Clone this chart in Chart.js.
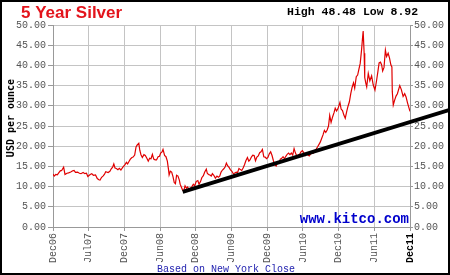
<!DOCTYPE html>
<html><head><meta charset="utf-8">
<script src="https://cdn.jsdelivr.net/npm/chart.js@4/dist/chart.umd.min.js"></script>
<style>html,body{margin:0;padding:0;background:#fff;}canvas{display:block;}</style>
</head><body>
<canvas id="c" width="450" height="275"></canvas>
<script>
const chartTitle = '5 Year Silver';
const highLowText = 'High 48.48 Low 8.92';
const sourceText = 'www.kitco.com';
const footerText = 'Based on New York Close';
const yAxisTitle = 'USD per ounce';
const tickLabels = ['Dec06','Jul07','Dec07','Jun08','Dec08','Jun09','Dec09','Jun10','Dec10','Jun11','Dec11'];
const rangeStart = '2007-01-03';
const rangeEnd = '2011-12-22';
const yMin = 0, yMax = 50, yStep = 5;

const dates = [
'2007-01-03','2007-01-09','2007-01-17','2007-01-25','2007-02-01','2007-02-09','2007-02-16','2007-02-26','2007-03-05','2007-03-15',
'2007-03-23','2007-04-03','2007-04-13','2007-04-20','2007-04-27','2007-05-08','2007-05-17','2007-05-25','2007-06-05','2007-06-14',
'2007-06-22','2007-06-29','2007-07-11','2007-07-19','2007-07-27','2007-08-07','2007-08-16','2007-08-24','2007-08-30','2007-09-07',
'2007-09-14','2007-09-21','2007-09-28','2007-10-10','2007-10-19','2007-10-26','2007-11-02','2007-11-08','2007-11-14','2007-11-21',
'2007-11-29','2007-12-06','2007-12-14','2007-12-24','2008-01-03','2008-01-11','2008-01-17','2008-01-24','2008-01-31','2008-02-08',
'2008-02-14','2008-02-22','2008-02-29','2008-03-06','2008-03-14','2008-03-19','2008-03-25','2008-04-01','2008-04-09','2008-04-16',
'2008-04-24','2008-05-01','2008-05-08','2008-05-15','2008-05-22','2008-05-29','2008-06-05','2008-06-12','2008-06-20','2008-06-27',
'2008-07-03','2008-07-10','2008-07-15','2008-07-23','2008-07-30','2008-08-06','2008-08-12','2008-08-15','2008-08-21','2008-08-28',
'2008-09-04','2008-09-10','2008-09-16','2008-09-22','2008-09-29','2008-10-06','2008-10-10','2008-10-16','2008-10-22','2008-10-28',
'2008-11-04','2008-11-11','2008-11-17','2008-11-24','2008-12-02','2008-12-09','2008-12-16','2008-12-23','2008-12-31','2009-01-08',
'2009-01-14','2009-01-22','2009-01-28','2009-02-05','2009-02-12','2009-02-20','2009-02-25','2009-03-03','2009-03-09','2009-03-17',
'2009-03-23','2009-03-30','2009-04-07','2009-04-15','2009-04-22','2009-04-29','2009-05-06','2009-05-13','2009-05-20','2009-05-27',
'2009-06-02','2009-06-09','2009-06-15','2009-06-22','2009-06-30','2009-07-08','2009-07-15','2009-07-22','2009-07-29','2009-08-05',
'2009-08-12','2009-08-19','2009-08-26','2009-09-02','2009-09-09','2009-09-17','2009-09-24','2009-09-30','2009-10-07','2009-10-14',
'2009-10-21','2009-10-28','2009-11-04','2009-11-11','2009-11-18','2009-11-25','2009-12-02','2009-12-09','2009-12-16','2009-12-23',
'2009-12-30','2010-01-06','2010-01-13','2010-01-20','2010-01-27','2010-02-04','2010-02-10','2010-02-17','2010-02-24','2010-03-03',
'2010-03-10','2010-03-17','2010-03-24','2010-03-31','2010-04-07','2010-04-14','2010-04-21','2010-04-28','2010-05-05','2010-05-12',
'2010-05-19','2010-05-26','2010-06-02','2010-06-09','2010-06-16','2010-06-23','2010-06-30','2010-07-07','2010-07-14','2010-07-21',
'2010-07-28','2010-08-04','2010-08-11','2010-08-18','2010-08-25','2010-09-01','2010-09-08','2010-09-15','2010-09-22','2010-09-29',
'2010-10-06','2010-10-13','2010-10-20','2010-10-27','2010-11-03','2010-11-09','2010-11-16','2010-11-24','2010-12-01','2010-12-07',
'2010-12-14','2010-12-21','2010-12-31','2011-01-06','2011-01-13','2011-01-20','2011-01-27','2011-02-03','2011-02-10','2011-02-17',
'2011-02-24','2011-03-03','2011-03-10','2011-03-16','2011-03-24','2011-03-31','2011-04-07','2011-04-13','2011-04-20','2011-04-25',
'2011-04-28','2011-05-03','2011-05-06','2011-05-12','2011-05-16','2011-05-24','2011-06-01','2011-06-10','2011-06-18','2011-06-27',
'2011-07-05','2011-07-12','2011-07-18','2011-07-25','2011-07-31','2011-08-05','2011-08-12','2011-08-19','2011-08-25','2011-09-02',
'2011-09-09','2011-09-16','2011-09-21','2011-09-23','2011-09-28','2011-10-05','2011-10-12','2011-10-19','2011-10-31','2011-11-08',
'2011-11-17','2011-11-25','2011-12-02','2011-12-09','2011-12-16','2011-12-22'
];
const prices = [
13.1,12.6,13.0,12.9,13.4,13.9,14.0,14.8,13.0,13.3,
13.4,13.6,13.9,14.0,13.5,13.6,13.3,13.2,13.5,13.2,
13.3,12.5,13.0,13.2,12.8,12.9,12.0,11.7,11.6,12.3,
12.6,13.0,13.7,13.5,13.8,14.4,14.8,15.6,14.6,14.5,
14.2,14.5,14.1,14.8,15.4,16.0,15.6,16.2,16.8,17.2,
17.3,17.8,19.8,20.3,20.7,19.0,17.9,17.2,17.9,17.7,
17.0,16.3,17.0,16.9,18.0,16.8,16.6,16.6,17.4,17.5,
18.3,18.6,19.2,17.7,17.4,16.3,14.2,12.9,13.8,13.6,
12.4,11.0,10.7,12.8,12.6,11.6,10.6,9.9,9.2,8.9,
10.2,9.6,9.9,9.3,9.6,10.0,10.6,10.2,11.3,11.5,
10.6,11.3,12.2,12.7,13.6,14.3,13.3,13.0,12.9,12.6,
13.2,12.8,12.1,12.6,12.3,12.6,13.6,14.1,14.4,14.9,
15.8,15.1,14.8,14.2,13.8,13.1,13.4,13.6,13.5,14.5,
14.2,14.0,14.6,15.4,16.4,17.2,16.3,16.6,17.3,17.8,
17.7,16.4,17.3,17.6,18.4,18.6,19.2,17.4,17.3,16.9,
17.2,18.1,18.6,17.7,16.4,15.3,15.1,16.1,15.8,16.8,
17.0,17.4,16.9,17.5,18.0,18.3,17.9,18.3,17.8,19.4,
18.3,17.6,17.8,18.0,18.6,18.9,18.4,17.7,18.2,17.8,
17.6,18.1,18.3,18.3,18.9,19.3,19.8,20.4,21.0,21.9,
22.8,23.9,23.4,24.0,25.0,27.6,25.9,27.3,28.3,29.4,
28.7,29.3,30.8,29.2,28.8,27.7,26.9,28.5,29.9,31.0,
33.0,34.6,35.7,34.4,37.2,37.6,39.2,40.5,43.9,46.9,
48.5,43.0,37.0,35.5,34.7,38.0,36.2,37.4,35.2,33.9,
36.2,38.5,40.6,40.8,40.1,38.6,39.5,43.8,42.2,43.0,
41.8,40.1,39.6,33.5,30.2,31.4,32.4,33.0,35.0,34.0,
32.3,33.0,32.2,30.8,29.6,28.6
];
const trendDates = ['2008-10-23','2012-07-11'];
const trendValues = [8.7, 29.0];

const DAY = 86400000;
const t0 = Date.parse(rangeStart);
const span = (Date.parse(rangeEnd) - t0) / DAY;
const toX = d => (Date.parse(d) - t0) / DAY;

const priceData = dates.map((d, i) => ({x: toX(d), y: prices[i]}));
const trendData = trendDates.map((d, i) => ({x: toX(d), y: trendValues[i]}));

const tickFont = {family: '"Liberation Mono", monospace', size: 10};

const textPlugin = {
  id: 'texts',
  afterDraw(chart) {
    const ctx = chart.ctx;
    ctx.save();
    ctx.textBaseline = 'alphabetic';
    ctx.fillStyle = '#e3141c';
    ctx.font = 'bold 17px "Liberation Sans", Arial, sans-serif';
    ctx.textAlign = 'left';
    ctx.fillText(chartTitle, 21, 18);
    ctx.fillStyle = '#000';
    ctx.font = 'bold 11.5px "Liberation Mono", monospace';
    ctx.fillText(highLowText, 287, 15);
    ctx.fillStyle = '#0000cc';
    ctx.font = 'bold 14px "Liberation Mono", monospace';
    ctx.textAlign = 'right';
    ctx.fillText(sourceText, 409, 223);
    ctx.fillStyle = '#2424b0';
    ctx.font = '10px "Liberation Mono", monospace';
    ctx.textAlign = 'center';
    ctx.fillText(footerText, 226, 272);
    ctx.save();
    ctx.translate(14, 118);
    ctx.rotate(-Math.PI / 2);
    ctx.fillStyle = '#000';
    ctx.font = 'bold 10px "DejaVu Sans Mono", monospace';
    ctx.textAlign = 'center';
    ctx.fillText(yAxisTitle, 0, 0);
    ctx.restore();
    ctx.strokeStyle = '#000';
    ctx.lineWidth = 2;
    ctx.strokeRect(1, 1, 448, 273);
    ctx.restore();
  }
};

new Chart(document.getElementById('c'), {
  type: 'line',
  data: {
    datasets: [
      {data: trendData, borderColor: '#000', borderWidth: 4, pointRadius: 0, clip: false, yAxisID: 'y', borderCapStyle: 'butt'},
      {data: priceData, borderColor: '#e00000', borderWidth: 1.2, pointRadius: 0, tension: 0, yAxisID: 'y'}
    ]
  },
  options: {
    responsive: false,
    devicePixelRatio: 1,
    animation: false,
    events: [],
    layout: {padding: {top: 25, left: 0, right: 0, bottom: 0}},
    plugins: {legend: {display: false}, tooltip: {enabled: false}, title: {display: false}},
    scales: {
      x: {
        type: 'linear', min: 0, max: span,
        afterBuildTicks: s => { s.ticks = tickLabels.map((l, i) => ({value: i * span / (tickLabels.length - 1)})); },
        afterFit: s => { s.height = 48; },
        ticks: {
          autoSkip: false, maxRotation: 90, minRotation: 90, padding: 2,
          callback: (v, i) => tickLabels[i],
          color: c => c.index === tickLabels.length - 1 ? '#000' : '#555',
          font: c => c.index === tickLabels.length - 1 ? {family: '"Liberation Mono", monospace', size: 10, weight: 'bold'} : tickFont
        },
        grid: {color: '#c4c4c4', tickLength: 4, tickColor: '#999'},
        border: {color: '#999'}
      },
      y: {
        position: 'left', min: yMin, max: yMax,
        afterFit: s => { s.width = 53; },
        ticks: {stepSize: yStep, padding: 2, color: '#555', font: tickFont, callback: v => v.toFixed(2)},
        grid: {color: '#c4c4c4', tickLength: 5, tickColor: '#999'},
        border: {color: '#999'}
      },
      y2: {
        position: 'right', min: yMin, max: yMax,
        afterFit: s => { s.width = 40; },
        ticks: {stepSize: yStep, padding: 1, color: '#555', font: tickFont, callback: v => v.toFixed(2)},
        grid: {drawOnChartArea: false, tickLength: 3, tickColor: '#999'},
        border: {color: '#999'}
      }
    }
  },
  plugins: [textPlugin]
});
</script>
</body></html>
